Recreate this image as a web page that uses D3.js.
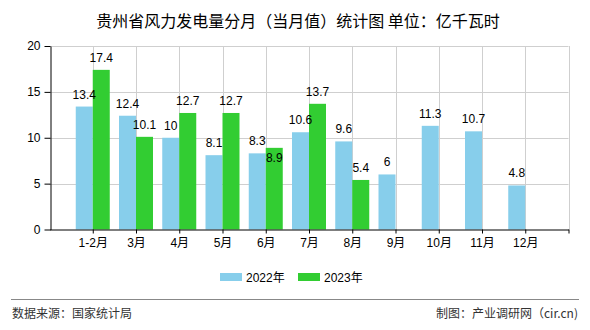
<!DOCTYPE html>
<html><head><meta charset="utf-8">
<script src="https://cdn.jsdelivr.net/npm/d3@7/dist/d3.min.js"></script>
<style>
html,body{margin:0;padding:0;background:#fff;}
text{font-family:"Liberation Sans","Noto Sans CJK SC",sans-serif;}
</style></head>
<body><svg id="c" width="590" height="330"></svg>
<script>
const categories = ["1-2月","3月","4月","5月","6月","7月","8月","9月","10月","11月","12月"];
const series2022 = [13.4,12.4,10,8.1,8.3,10.6,9.6,6,11.3,10.7,4.8];
const series2023 = [17.4,10.1,12.7,12.7,8.9,13.7,5.4,null,null,null,null];
const seriesNames = ["2022年","2023年"];
const colors = ["#87CEEB","#32CD32"];
const yTicks = [0,5,10,15,20];

const svg = d3.select("#c");
const x = d3.scaleLinear().domain([-1, categories.length]).range([49.5, 568.5]);
const y = d3.scaleLinear().domain([0, 20]).range([229.5, 46]);
const bw = 17;

// title
svg.append("text").attr("x", 298).attr("y", 27).attr("text-anchor","middle")
  .style("font-family",'"Noto Sans CJK SC",sans-serif').style("font-size","16px").attr("fill","#000")
  .text("贵州省风力发电量分月（当月值）统计图 单位：亿千瓦时");

// grid
const g = svg.append("g");
g.selectAll("line.h").data(yTicks.filter(d=>d>0)).join("line")
  .attr("x1", x(-1)).attr("x2", x(categories.length)).attr("y1", d=>Math.round(y(d))+0.5).attr("y2", d=>Math.round(y(d))+0.5)
  .attr("stroke","#cfcfcf").attr("stroke-width",1);
const vIdx = d3.range(0, categories.length+1);
g.selectAll("line.v").data(vIdx).join("line")
  .attr("x1", d=>Math.round(x(d))+0.5).attr("x2", d=>Math.round(x(d))+0.5).attr("y1", y(20)).attr("y2", y(0))
  .attr("stroke","#cfcfcf").attr("stroke-width",1);

// bars
const bars = svg.append("g");
bars.selectAll("rect.a").data(series2022).join("rect")
  .attr("x",(d,i)=>x(i)-bw).attr("width",bw).attr("y",d=>y(d)).attr("height",d=>y(0)-y(d)).attr("fill",colors[0]);
bars.selectAll("rect.b").data(series2023.map((v,i)=>({v,i})).filter(d=>d.v!=null)).join("rect")
  .attr("x",d=>x(d.i)).attr("width",bw).attr("y",d=>y(d.v)).attr("height",d=>y(0)-y(d.v)).attr("fill",colors[1]);

// value labels
const lab = svg.append("g").style("font-size","12px").attr("fill","#000").attr("text-anchor","middle");
const off = 8;
series2022.forEach((v,i)=>{
  lab.append("text").attr("x", x(i)-bw/2).attr("y", y(v)-off).text(v);
});
series2023.forEach((v,i)=>{
  if(v==null) return;
  let ly = y(v)-off;
  const other = y(series2022[i])-off;
  if (Math.abs(ly-other) < 10) ly = other + 17;
  lab.append("text").attr("x", x(i)+bw/2).attr("y", ly).text(v);
});

// axes
const yAxis = d3.axisLeft(y).tickValues(yTicks).tickSize(6).tickSizeOuter(0).tickPadding(4);
const ya = svg.append("g").attr("transform",`translate(${Math.round(x(-1))+0.5},0)`).call(yAxis);
ya.select(".domain").attr("stroke","#000");
ya.selectAll(".tick line").attr("stroke","#000");
ya.selectAll(".tick text").style("font-size","12px").attr("fill","#000")
  .style("font-family","'Liberation Sans',sans-serif");

const xAxis = d3.axisBottom(x).tickValues(d3.range(0, categories.length+1))
  .tickFormat(i=>categories[i]||"").tickSize(4).tickSizeOuter(0).tickPadding(5);
const xa = svg.append("g").attr("transform",`translate(0,${Math.round(y(0))-0.5})`).call(xAxis);
xa.select(".domain").attr("stroke","#000");
xa.selectAll(".tick line").attr("stroke","#000");
xa.selectAll(".tick text").style("font-size","12px").attr("fill","#000");

// legend
const leg = svg.append("g");
const lx = [220, 298];
seriesNames.forEach((n,i)=>{
  leg.append("rect").attr("x",lx[i]).attr("y",273).attr("width",22).attr("height",8).attr("fill",colors[i]);
  leg.append("text").attr("x",lx[i]+26).attr("y",281.5).style("font-size","12px").attr("fill","#000").text(n);
});

// footer
svg.append("line").attr("x1",11).attr("x2",579).attr("y1",299.5).attr("y2",299.5).attr("stroke","#888").attr("stroke-width",1);
svg.append("text").attr("x",12).attr("y",318).style("font-size","12px").attr("fill","#333")
  .style("font-family",'"Noto Sans CJK SC",sans-serif').text("数据来源：国家统计局");
svg.append("text").attr("x",578).attr("y",318).attr("text-anchor","end").style("font-size","12px").attr("fill","#333")
  .style("font-family",'"Noto Sans CJK SC",sans-serif').text("制图：产业调研网（cir.cn)");
</script></body></html>
